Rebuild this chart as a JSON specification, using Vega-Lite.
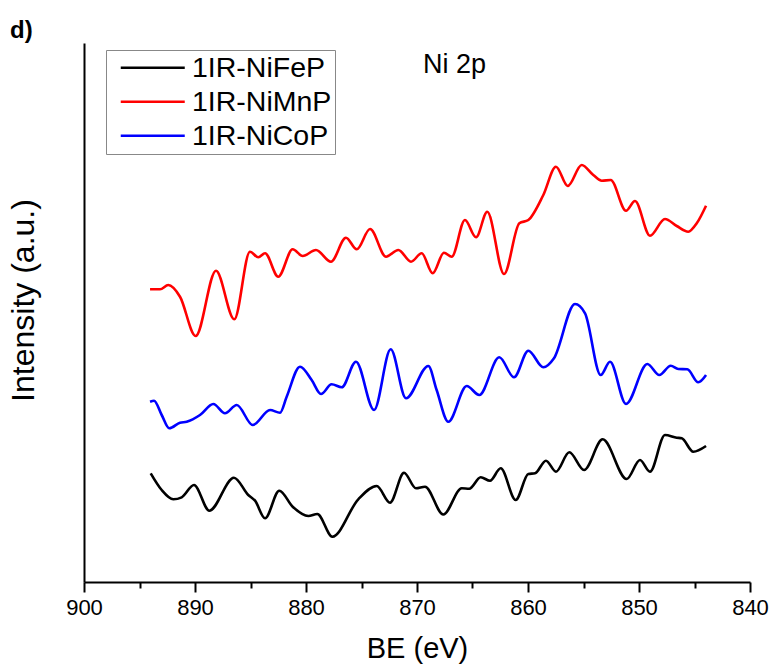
{
  "$schema": "https://vega.github.io/schema/vega-lite/v6.json",
  "width": 666,
  "height": 539,
  "autosize": "none",
  "padding": {"left": 84, "top": 43, "right": 21, "bottom": 88},
  "background": "white",
  "title": {"text": "d)", "anchor": "start", "frame": "group", "dx": -74, "offset": -19, "baseline": "alphabetic", "fontSize": 24, "fontWeight": "bold", "font": "Liberation Sans", "color": "black"},
  "config": {
    "view": {"stroke": null},
    "font": "Liberation Sans"
  },
  "datasets": {
    "spectra": [
      {"series": "1IR-NiMnP", "be": 894.05, "v": 292.7},
      {"series": "1IR-NiMnP", "be": 893.15, "v": 292.7},
      {"series": "1IR-NiMnP", "be": 892.41, "v": 297},
      {"series": "1IR-NiMnP", "be": 891.35, "v": 285.3},
      {"series": "1IR-NiMnP", "be": 889.94, "v": 246},
      {"series": "1IR-NiMnP", "be": 888.11, "v": 311.3},
      {"series": "1IR-NiMnP", "be": 886.46, "v": 262.7},
      {"series": "1IR-NiMnP", "be": 885.05, "v": 330.3},
      {"series": "1IR-NiMnP", "be": 884.30, "v": 324.7},
      {"series": "1IR-NiMnP", "be": 883.69, "v": 328.7},
      {"series": "1IR-NiMnP", "be": 882.50, "v": 305.3},
      {"series": "1IR-NiMnP", "be": 881.20, "v": 332.7},
      {"series": "1IR-NiMnP", "be": 880.30, "v": 326},
      {"series": "1IR-NiMnP", "be": 879.10, "v": 332},
      {"series": "1IR-NiMnP", "be": 877.75, "v": 320.3},
      {"series": "1IR-NiMnP", "be": 876.40, "v": 344.3},
      {"series": "1IR-NiMnP", "be": 875.43, "v": 332.7},
      {"series": "1IR-NiMnP", "be": 874.23, "v": 353},
      {"series": "1IR-NiMnP", "be": 872.79, "v": 325.3},
      {"series": "1IR-NiMnP", "be": 871.68, "v": 332},
      {"series": "1IR-NiMnP", "be": 870.54, "v": 320.3},
      {"series": "1IR-NiMnP", "be": 869.58, "v": 328.7},
      {"series": "1IR-NiMnP", "be": 868.59, "v": 308.7},
      {"series": "1IR-NiMnP", "be": 867.57, "v": 329.3},
      {"series": "1IR-NiMnP", "be": 866.87, "v": 325.3},
      {"series": "1IR-NiMnP", "be": 865.68, "v": 362},
      {"series": "1IR-NiMnP", "be": 864.68, "v": 344.7},
      {"series": "1IR-NiMnP", "be": 863.67, "v": 370.3},
      {"series": "1IR-NiMnP", "be": 862.16, "v": 308},
      {"series": "1IR-NiMnP", "be": 860.78, "v": 358.7},
      {"series": "1IR-NiMnP", "be": 859.97, "v": 362},
      {"series": "1IR-NiMnP", "be": 858.62, "v": 387},
      {"series": "1IR-NiMnP", "be": 857.48, "v": 415.3},
      {"series": "1IR-NiMnP", "be": 856.42, "v": 396},
      {"series": "1IR-NiMnP", "be": 855.16, "v": 417},
      {"series": "1IR-NiMnP", "be": 854.12, "v": 407},
      {"series": "1IR-NiMnP", "be": 853.36, "v": 401.3},
      {"series": "1IR-NiMnP", "be": 852.55, "v": 402},
      {"series": "1IR-NiMnP", "be": 851.17, "v": 371.3},
      {"series": "1IR-NiMnP", "be": 850.36, "v": 381},
      {"series": "1IR-NiMnP", "be": 849.01, "v": 346.3},
      {"series": "1IR-NiMnP", "be": 847.66, "v": 363},
      {"series": "1IR-NiMnP", "be": 846.60, "v": 356},
      {"series": "1IR-NiMnP", "be": 845.56, "v": 350.3},
      {"series": "1IR-NiMnP", "be": 844.80, "v": 358.7},
      {"series": "1IR-NiMnP", "be": 843.96, "v": 376.3},

      {"series": "1IR-NiCoP", "be": 894.05, "v": 180.3},
      {"series": "1IR-NiCoP", "be": 893.69, "v": 181.3},
      {"series": "1IR-NiCoP", "be": 893.00, "v": 167},
      {"series": "1IR-NiCoP", "be": 892.32, "v": 153.7},
      {"series": "1IR-NiCoP", "be": 891.35, "v": 159.3},
      {"series": "1IR-NiCoP", "be": 890.75, "v": 160.3},
      {"series": "1IR-NiCoP", "be": 889.55, "v": 167},
      {"series": "1IR-NiCoP", "be": 888.35, "v": 178},
      {"series": "1IR-NiCoP", "be": 887.30, "v": 168.7},
      {"series": "1IR-NiCoP", "be": 886.24, "v": 177},
      {"series": "1IR-NiCoP", "be": 884.80, "v": 157},
      {"series": "1IR-NiCoP", "be": 883.24, "v": 172},
      {"series": "1IR-NiCoP", "be": 882.34, "v": 169.3},
      {"series": "1IR-NiCoP", "be": 881.74, "v": 185.3},
      {"series": "1IR-NiCoP", "be": 880.54, "v": 215.3},
      {"series": "1IR-NiCoP", "be": 879.49, "v": 202},
      {"series": "1IR-NiCoP", "be": 878.65, "v": 188},
      {"series": "1IR-NiCoP", "be": 877.69, "v": 197.7},
      {"series": "1IR-NiCoP", "be": 876.78, "v": 194.7},
      {"series": "1IR-NiCoP", "be": 875.50, "v": 220.3},
      {"series": "1IR-NiCoP", "be": 873.87, "v": 172},
      {"series": "1IR-NiCoP", "be": 872.37, "v": 232.7},
      {"series": "1IR-NiCoP", "be": 870.99, "v": 183.7},
      {"series": "1IR-NiCoP", "be": 868.98, "v": 216},
      {"series": "1IR-NiCoP", "be": 868.23, "v": 192},
      {"series": "1IR-NiCoP", "be": 867.18, "v": 160.3},
      {"series": "1IR-NiCoP", "be": 865.52, "v": 196},
      {"series": "1IR-NiCoP", "be": 864.39, "v": 187},
      {"series": "1IR-NiCoP", "be": 862.59, "v": 224.7},
      {"series": "1IR-NiCoP", "be": 861.26, "v": 204.7},
      {"series": "1IR-NiCoP", "be": 859.97, "v": 231.3},
      {"series": "1IR-NiCoP", "be": 858.62, "v": 214.7},
      {"series": "1IR-NiCoP", "be": 857.66, "v": 223.7},
      {"series": "1IR-NiCoP", "be": 855.77, "v": 278},
      {"series": "1IR-NiCoP", "be": 854.86, "v": 268.7},
      {"series": "1IR-NiCoP", "be": 853.45, "v": 207},
      {"series": "1IR-NiCoP", "be": 852.61, "v": 220.3},
      {"series": "1IR-NiCoP", "be": 851.17, "v": 178},
      {"series": "1IR-NiCoP", "be": 849.25, "v": 218},
      {"series": "1IR-NiCoP", "be": 848.17, "v": 207},
      {"series": "1IR-NiCoP", "be": 847.14, "v": 216.3},
      {"series": "1IR-NiCoP", "be": 846.46, "v": 213},
      {"series": "1IR-NiCoP", "be": 845.65, "v": 212.7},
      {"series": "1IR-NiCoP", "be": 844.66, "v": 199.7},
      {"series": "1IR-NiCoP", "be": 843.96, "v": 207},

      {"series": "1IR-NiFeP", "be": 893.99, "v": 108.7},
      {"series": "1IR-NiFeP", "be": 893.00, "v": 92},
      {"series": "1IR-NiFeP", "be": 891.95, "v": 82.7},
      {"series": "1IR-NiFeP", "be": 891.20, "v": 84.7},
      {"series": "1IR-NiFeP", "be": 890.09, "v": 97},
      {"series": "1IR-NiFeP", "be": 888.71, "v": 71.3},
      {"series": "1IR-NiFeP", "be": 886.49, "v": 104.3},
      {"series": "1IR-NiFeP", "be": 885.20, "v": 87},
      {"series": "1IR-NiFeP", "be": 884.59, "v": 81.3},
      {"series": "1IR-NiFeP", "be": 883.69, "v": 63.7},
      {"series": "1IR-NiFeP", "be": 882.41, "v": 91.3},
      {"series": "1IR-NiFeP", "be": 881.20, "v": 75.3},
      {"series": "1IR-NiFeP", "be": 879.79, "v": 66},
      {"series": "1IR-NiFeP", "be": 878.98, "v": 68},
      {"series": "1IR-NiFeP", "be": 877.63, "v": 45.3},
      {"series": "1IR-NiFeP", "be": 875.29, "v": 82.7},
      {"series": "1IR-NiFeP", "be": 873.63, "v": 96},
      {"series": "1IR-NiFeP", "be": 872.43, "v": 79.3},
      {"series": "1IR-NiFeP", "be": 871.17, "v": 109.3},
      {"series": "1IR-NiFeP", "be": 870.09, "v": 93.7},
      {"series": "1IR-NiFeP", "be": 869.28, "v": 95.3},
      {"series": "1IR-NiFeP", "be": 867.63, "v": 67.5},
      {"series": "1IR-NiFeP", "be": 865.97, "v": 93.7},
      {"series": "1IR-NiFeP", "be": 865.29, "v": 93.3},
      {"series": "1IR-NiFeP", "be": 864.26, "v": 104.7},
      {"series": "1IR-NiFeP", "be": 863.42, "v": 101.3},
      {"series": "1IR-NiFeP", "be": 862.46, "v": 113.7},
      {"series": "1IR-NiFeP", "be": 861.11, "v": 82},
      {"series": "1IR-NiFeP", "be": 859.97, "v": 108},
      {"series": "1IR-NiFeP", "be": 859.37, "v": 108.7},
      {"series": "1IR-NiFeP", "be": 858.38, "v": 121.3},
      {"series": "1IR-NiFeP", "be": 857.48, "v": 110.3},
      {"series": "1IR-NiFeP", "be": 856.28, "v": 129.7},
      {"series": "1IR-NiFeP", "be": 854.95, "v": 112},
      {"series": "1IR-NiFeP", "be": 853.27, "v": 142.7},
      {"series": "1IR-NiFeP", "be": 851.11, "v": 103},
      {"series": "1IR-NiFeP", "be": 849.91, "v": 122},
      {"series": "1IR-NiFeP", "be": 849.01, "v": 110.3},
      {"series": "1IR-NiFeP", "be": 847.66, "v": 147},
      {"series": "1IR-NiFeP", "be": 846.60, "v": 144.3},
      {"series": "1IR-NiFeP", "be": 846.15, "v": 143.7},
      {"series": "1IR-NiFeP", "be": 845.11, "v": 130.3},
      {"series": "1IR-NiFeP", "be": 843.96, "v": 136}
    ],
    "annot": [
      {"label": "Ni 2p", "be": 869.46, "v": 509}
    ]
  },
  "layer": [
    {
      "data": {"name": "spectra"},
      "mark": {"type": "line", "strokeWidth": 2.6, "interpolate": "monotone"},
      "encoding": {
        "x": {
          "field": "be", "type": "quantitative",
          "scale": {"domain": [840, 900], "reverse": true, "nice": false, "zero": false},
          "axis": {
            "title": "BE (eV)",
            "values": [900, 895, 890, 885, 880, 875, 870, 865, 860, 855, 850, 845, 840],
            "labelExpr": "datum.value % 10 === 0 ? datum.label : ''",
            "tickSize": {"condition": {"test": "datum.value % 10 === 0", "value": 10}, "value": 6},
            "grid": false,
            "domainColor": "black", "domainWidth": 2,
            "tickColor": "black", "tickWidth": 2,
            "labelFontSize": 22, "labelColor": "black", "labelPadding": 5, "labelOverlap": false, "labelFlush": false,
            "titleFontSize": 29, "titleFontWeight": "normal", "titleColor": "black", "titlePadding": 16
          }
        },
        "y": {
          "field": "v", "type": "quantitative",
          "scale": {"domain": [0, 539], "nice": false, "zero": false},
          "axis": {
            "title": "Intensity (a.u.)",
            "labels": false, "ticks": false, "grid": false,
            "domainColor": "black", "domainWidth": 2,
            "titleFontSize": 32, "titleFontWeight": "normal", "titleColor": "black", "titlePadding": 44, "titleY": 257
          }
        },
        "color": {
          "field": "series", "type": "nominal",
          "scale": {"domain": ["1IR-NiFeP", "1IR-NiMnP", "1IR-NiCoP"], "range": ["#000000", "#ff0000", "#0000ff"]},
          "legend": {
            "title": null, "orient": "none", "legendX": 22, "legendY": 7,
            "symbolType": "M-3.2,0L3.2,0", "symbolSize": 400, "symbolStrokeWidth": 2.6, "symbolOffset": 29,
            "labelFontSize": 28.5, "labelColor": "black", "labelOffset": 25, "labelLimit": 300,
            "strokeColor": "#888888", "padding": 3.5, "rowPadding": 5
          }
        },
        "detail": {"field": "series"}
      }
    },
    {
      "data": {"name": "annot"},
      "mark": {"type": "text", "align": "left", "baseline": "alphabetic", "fontSize": 27, "color": "black", "font": "Liberation Sans"},
      "encoding": {
        "x": {"field": "be", "type": "quantitative"},
        "y": {"field": "v", "type": "quantitative"},
        "text": {"field": "label"}
      }
    }
  ]
}
